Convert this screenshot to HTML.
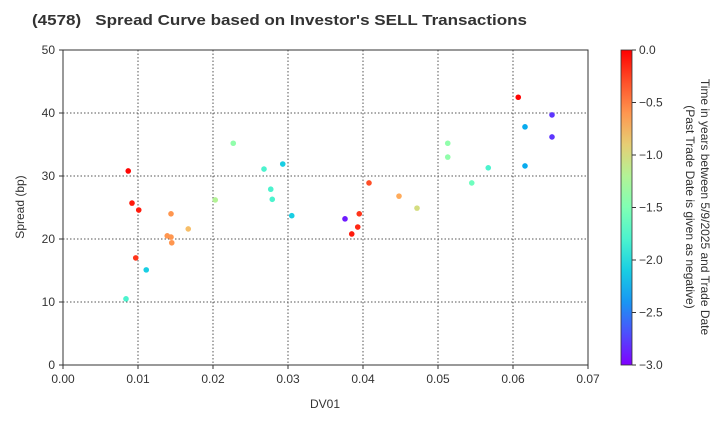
<!DOCTYPE html>
<html><head><meta charset="utf-8"><style>
body{margin:0;background:#fff}
svg{font-family:"Liberation Sans",Arial,sans-serif}
</style></head><body>
<svg id="chart" width="720" height="420" xmlns="http://www.w3.org/2000/svg">
<defs><linearGradient id="cb" x1="0" y1="1" x2="0" y2="0"></linearGradient></defs>
<text x="32" y="25" font-size="15" font-weight="bold" fill="#333" style="white-space:pre" textLength="495" lengthAdjust="spacingAndGlyphs">(4578)   Spread Curve based on Investor's SELL Transactions</text>
<g id="grid"></g><g id="axes"></g><g id="pts"></g><g id="cbar"></g>
<text x="325" y="408" font-size="12" text-anchor="middle" fill="#333">DV01</text>
<text transform="translate(24,207) rotate(-90)" font-size="12" text-anchor="middle" fill="#333">Spread (bp)</text>
<text transform="translate(695,207) rotate(90)" font-size="12" text-anchor="middle" fill="#333"><tspan x="0" dy="-6">Time in years between 5/9/2025 and Trade Date</tspan><tspan x="0" dy="15">(Past Trade Date is given as negative)</tspan></text>
</svg>
<script>
const xTicks=[0,0.01,0.02,0.03,0.04,0.05,0.06,0.07];
const xTickLabels=["0.00","0.01","0.02","0.03","0.04","0.05","0.06","0.07"];
const yTicks=[0,10,20,30,40,50];
const cTicks=[0,-0.5,-1,-1.5,-2,-2.5,-3];
const cTickLabels=["0.0","−0.5","−1.0","−1.5","−2.0","−2.5","−3.0"];
const dv01=[.0087,.0092,.0101,.0097,.0111,.0084,.0144,.0139,.0144,.0145,.0167,.0203,.0227,.0268,.0293,.0277,.0279,.0305,.0376,.0395,.0393,.0385,.0408,.0448,.0472,.0513,.0513,.0545,.0567,.0607,.0616,.0616,.0652,.0652];
const spread=[30.8,25.7,24.6,17.0,15.1,10.5,24.0,20.5,20.3,19.4,21.6,26.2,35.2,31.1,31.9,27.9,26.3,23.7,23.2,24.0,21.9,20.8,28.9,26.8,24.9,35.2,33.0,28.9,31.3,42.5,37.8,31.6,39.7,36.2];
const years=[-0.02,-0.1,-0.1,-0.2,-2.1,-1.8,-0.6,-0.6,-0.6,-0.6,-0.8,-1.2,-1.4,-1.8,-2.1,-1.8,-1.8,-2.1,-2.9,-0.2,-0.15,-0.1,-0.3,-0.7,-1.0,-1.4,-1.4,-1.6,-1.8,-0.02,-2.3,-2.3,-2.8,-2.8];
const NS="http://www.w3.org/2000/svg";
const X0=63,X1=588,Y0=365,Y1=50;
const sx=v=>X0+(v-0)/0.07*(X1-X0);
const sy=v=>Y0-(v-0)/50*(Y0-Y1);
const cy=v=>Y1+(0-v)/3*(Y0-Y1);
function rainbow(t){let x=(t+3)/3;x=Math.max(0,Math.min(1,x));
 const r=Math.min(1,Math.abs(2*x-0.5)),g=Math.sin(Math.PI*x),b=Math.cos(Math.PI*x/2);
 return `rgb(${Math.round(r*255)},${Math.round(g*255)},${Math.round(b*255)})`;}
function mk(tag,at,parent){const e=document.createElementNS(NS,tag);for(const k in at)e.setAttribute(k,at[k]);parent.appendChild(e);return e;}
const grid=document.getElementById('grid'),axes=document.getElementById('axes'),pts=document.getElementById('pts'),cbar=document.getElementById('cbar');
xTicks.forEach((v,i)=>{const x=sx(v);
 if(i>0&&i<xTicks.length-1){const l=mk('line',{x1:x,x2:x,y1:Y1,y2:Y0,stroke:'#555','stroke-dasharray':'1.5,2','stroke-width':1},grid);
 }
 const t=mk('line',{x1:x,x2:x,y1:Y0,y2:Y0+4,stroke:'#333'},axes);
 
 const tx=mk('text',{x:x,y:Y0+18,'font-size':12,'text-anchor':'middle',fill:'#333'},axes);tx.textContent=xTickLabels[i];
 });
yTicks.forEach(v=>{const y=sy(v);
 if(v>0&&v<50){const l=mk('line',{x1:X0,x2:X1,y1:y,y2:y,stroke:'#555','stroke-dasharray':'1.5,2','stroke-width':1},grid);
 }
 const t=mk('line',{x1:X0-4,x2:X0,y1:y,y2:y,stroke:'#333'},axes);
 
 const tx=mk('text',{x:X0-8,y:y+4,'font-size':12,'text-anchor':'end',fill:'#333'},axes);tx.textContent=v;
 });
const fr=mk('rect',{x:X0,y:Y1,width:X1-X0,height:Y0-Y1,fill:'none',stroke:'#333','stroke-width':1},axes);

dv01.forEach((d,i)=>{const c=mk('circle',{cx:sx(d),cy:sy(spread[i]),r:2.8,fill:rainbow(years[i])},pts);
 });
const grad=document.getElementById('cb');
for(let k=0;k<=10;k++){mk('stop',{offset:k/10,'stop-color':rainbow(-3+3*k/10)},grad);}
const cr=mk('rect',{x:621,y:Y1,width:11,height:Y0-Y1,fill:'url(#cb)',stroke:'#333','stroke-width':0.8},cbar);

cTicks.forEach((v,i)=>{const y=cy(v);
 const t=mk('line',{x1:632,x2:636,y1:y,y2:y,stroke:'#333'},cbar);
 
 const tx=mk('text',{x:639,y:y+4,'font-size':12,fill:'#333'},cbar);tx.textContent=cTickLabels[i];
 });
</script>
</body></html>
